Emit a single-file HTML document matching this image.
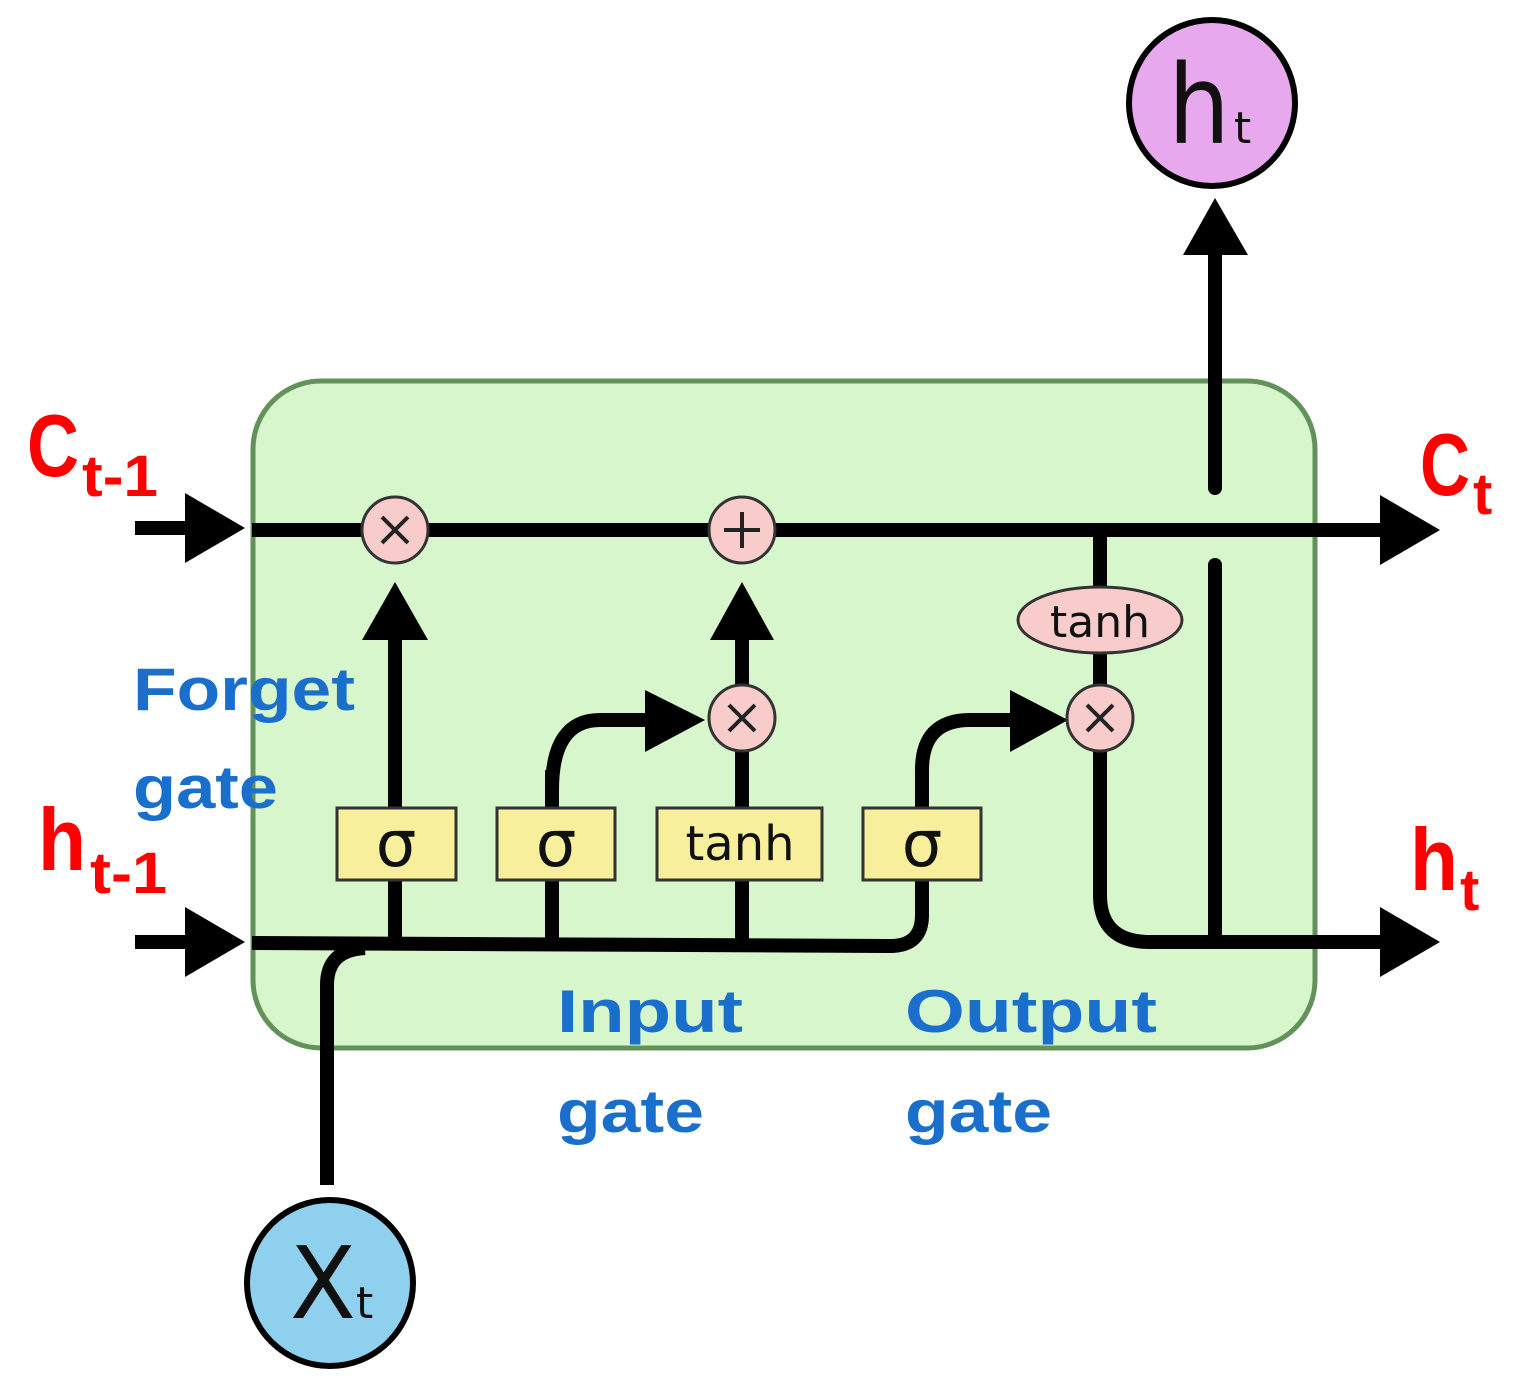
<!DOCTYPE html>
<html><head><meta charset="utf-8"><style>
html,body{margin:0;padding:0;background:#fff;}
svg{display:block;}
</style></head><body>
<svg width="1531" height="1393" viewBox="0 0 1531 1393" xmlns="http://www.w3.org/2000/svg">
<rect x="253" y="381" width="1062" height="667" rx="68" fill="#d8f6cc" stroke="#62925a" stroke-width="5"/>
<g stroke="#000" stroke-width="14" fill="none">
<line x1="135" y1="528" x2="195" y2="528"/>
<line x1="252" y1="530" x2="1390" y2="530"/>
<line x1="135" y1="942" x2="195" y2="942"/>
<path d="M252 943 L890 946 Q922 946 922 915 L922 880"/>
<path d="M327 1185 L327 985 Q327 950 365 948"/>
<line x1="395" y1="942" x2="395" y2="620"/>
<line x1="552" y1="942" x2="552" y2="770"/>
<path d="M552 790 Q552 720 600 720 L650 720"/>
<line x1="742" y1="942" x2="742" y2="620"/>
<path d="M922 808 L922 770 Q922 720 970 720 L1015 720"/>
<line x1="1100" y1="530" x2="1100" y2="690"/>
<path d="M1100 740 L1100 895 Q1100 942 1150 942 L1390 942"/>
<line x1="1215" y1="937" x2="1215" y2="565" stroke-linecap="round"/>
<line x1="1215" y1="488" x2="1215" y2="250" stroke-linecap="round"/>
</g>
<g fill="#000">
<polygon points="185,493 245,528 185,563"/>
<polygon points="185,907 245,942 185,977"/>
<polygon points="1380,495 1440,530 1380,565"/>
<polygon points="1380,907 1440,942 1380,977"/>
<polygon points="362,640 395,582 428,640"/>
<polygon points="710,640 742,582 774,640"/>
<polygon points="645,690 705,720 645,752"/>
<polygon points="1010,690 1068,720 1010,752"/>
<polygon points="1183,255 1215,198 1248,255"/>
</g>
<g fill="#f9cccc" stroke="#333" stroke-width="3">
<circle cx="395" cy="530" r="33"/>
<circle cx="742" cy="530" r="33"/>
<circle cx="742" cy="718" r="33"/>
<circle cx="1100" cy="718" r="33"/>
<ellipse cx="1100" cy="620" rx="82" ry="33"/>
</g>
<g stroke="#222" stroke-width="4">
<path d="M382 517 L408 543 M408 517 L382 543"/>
<path d="M742 512 L742 548 M724 530 L760 530"/>
<path d="M729 705 L755 731 M755 705 L729 731"/>
<path d="M1087 705 L1113 731 M1113 705 L1087 731"/>
</g>
<g fill="#f8ef9c" stroke="#333" stroke-width="3">
<rect x="337" y="808" width="119" height="72"/>
<rect x="497" y="808" width="118" height="72"/>
<rect x="657" y="808" width="165" height="72"/>
<rect x="863" y="808" width="118" height="72"/>
</g>
<g font-family="DejaVu Sans, Liberation Sans, sans-serif" fill="#111" text-anchor="middle">
<text x="396" y="866" font-size="64">σ</text>
<text x="556" y="866" font-size="64">σ</text>
<text x="922" y="866" font-size="64">σ</text>
<text x="740" y="860" font-size="48">tanh</text>
<text x="1100" y="637" font-size="44">tanh</text>
</g>
<circle cx="1212" cy="103" r="83" fill="#e8a8ee" stroke="#000" stroke-width="6"/>
<text x="1168" y="143" font-family="DejaVu Sans, sans-serif" font-size="110" fill="#111" textLength="62" lengthAdjust="spacingAndGlyphs">h</text>
<text x="1234" y="143" font-family="DejaVu Sans, sans-serif" font-size="44" fill="#111">t</text>
<circle cx="330" cy="1283" r="83" fill="#8fd0ef" stroke="#000" stroke-width="6"/>
<text x="290" y="1318" font-family="DejaVu Sans, sans-serif" font-size="100" fill="#111" textLength="66" lengthAdjust="spacingAndGlyphs">X</text>
<text x="356" y="1318" font-family="DejaVu Sans, sans-serif" font-size="44" fill="#111">t</text>
<g font-family="Liberation Sans, sans-serif" font-weight="bold" fill="#f00">
<text x="27" y="476" font-size="88" textLength="52" lengthAdjust="spacingAndGlyphs">C</text>
<text x="82" y="496" font-size="58" textLength="76" lengthAdjust="spacingAndGlyphs">t-1</text>
<text x="38" y="870" font-size="88" textLength="48" lengthAdjust="spacingAndGlyphs">h</text>
<text x="90" y="893" font-size="58" textLength="77" lengthAdjust="spacingAndGlyphs">t-1</text>
<text x="1420" y="495" font-size="88" textLength="50" lengthAdjust="spacingAndGlyphs">C</text>
<text x="1473" y="514" font-size="58">t</text>
<text x="1410" y="890" font-size="88" textLength="48" lengthAdjust="spacingAndGlyphs">h</text>
<text x="1460" y="910" font-size="58">t</text>
</g>
<g font-family="Liberation Sans, sans-serif" font-weight="bold" fill="#1a6fcc" font-size="60">
<text x="133" y="710" textLength="222" lengthAdjust="spacingAndGlyphs">Forget</text>
<text x="133" y="808" textLength="145" lengthAdjust="spacingAndGlyphs">gate</text>
<text x="557" y="1032" textLength="186" lengthAdjust="spacingAndGlyphs">Input</text>
<text x="557" y="1132" textLength="147" lengthAdjust="spacingAndGlyphs">gate</text>
<text x="905" y="1032" textLength="252" lengthAdjust="spacingAndGlyphs">Output</text>
<text x="905" y="1132" textLength="147" lengthAdjust="spacingAndGlyphs">gate</text>
</g>
</svg>
</body></html>
